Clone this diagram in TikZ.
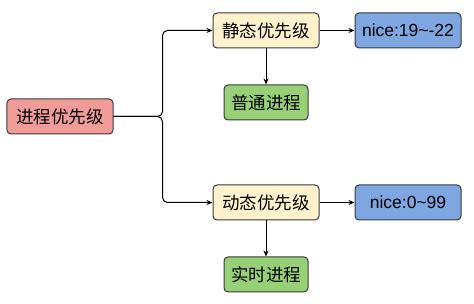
\documentclass[tikz,border=0pt]{standalone}
\usepackage{fontspec}
\setmainfont{Liberation Sans}
\newfontfamily\cjk{Noto Sans CJK SC}
\usepackage{tikz}
\usetikzlibrary{arrows.meta, positioning}
\definecolor{redfill}{HTML}{F19C99}
\definecolor{yellowfill}{HTML}{FFF2CC}
\definecolor{greenfill}{HTML}{97D077}
\definecolor{bluefill}{HTML}{7EA6E0}
\definecolor{edgegray}{HTML}{36393D}

\begin{document}
\begin{tikzpicture}[
    ->, >={Stealth[length=6pt, width=5pt]}, line width=1pt,
    every node/.style={draw=edgegray, rectangle, rounded corners=4pt, align=center, inner sep=0pt,
        minimum width=106pt, minimum height=35pt, font=\fontsize{17.5}{19}\selectfont}
]
\useasboundingbox (-60pt,-187.5pt) rectangle (414pt,116.5pt);
\node (process_priority) [fill=redfill] at (0,0) {\cjk 进程优先级};
\node (static_priority) [fill=yellowfill, above right=50pt and 99pt of process_priority] {\cjk 静态优先级};
\node (static_nice) [fill=bluefill, right=35pt of static_priority] {nice:19\string~-22};
\node (normal_process) [fill=greenfill, minimum width=84pt, below=36pt of static_priority] {\cjk 普通进程};
\node (dynamic_priority) [fill=yellowfill, below right=50pt and 99pt of process_priority] {\cjk 动态优先级};
\node (dynamic_nice) [fill=bluefill, right=35pt of dynamic_priority] {nice:0\string~99};
\node (realtime_process) [fill=greenfill, minimum width=84pt, below=36pt of dynamic_priority] {\cjk 实时进程};
\coordinate (fork) at ([xshift=49pt]process_priority.east);
\draw[->, rounded corners=5pt] (process_priority.east) -- (fork) |- (static_priority.west);
\draw[->, rounded corners=5pt] (process_priority.east) -- (fork) |- (dynamic_priority.west);
\draw[->] (static_priority) -- (static_nice);
\draw[->] (static_priority) -- (normal_process);
\draw[->] (dynamic_priority) -- (dynamic_nice);
\draw[->] (dynamic_priority) -- (realtime_process);
\end{tikzpicture}
\end{document}
